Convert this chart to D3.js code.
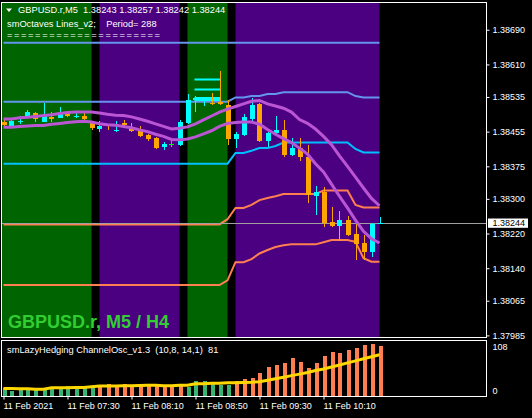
<!DOCTYPE html>
<html>
<head>
<meta charset="utf-8">
<script src="https://cdn.jsdelivr.net/npm/d3@7"></script>
<style>
  body { margin: 0; background: #000; }
  text { font-family: "Liberation Sans", Arial, sans-serif; }
</style>
</head>
<body>
<svg width="532" height="418"></svg>
<script>
(function (d3) {
  'use strict';

  // ---- data (M5 bars, index 0 = 11 Feb 06:50) ----
  var opens = [1.38478,1.38469,1.38478,1.38488,1.38498,1.38478,1.38488,1.38486,1.38498,1.38488,
    1.38490,1.38474,1.38461,1.38470,1.38456,1.38474,1.38465,1.38457,1.38447,1.38441,
    1.38420,1.38427,1.38424,1.38476,1.38528,1.38528,1.38521,1.38524,1.38517,1.38438,
    1.38447,1.38484,1.38519,1.38433,1.38451,1.38459,1.38400,1.38417,1.38397,1.38306,
    1.38316,1.38246,1.38237,1.38251,1.38219,1.38198,1.38178,1.38243];
  var highs = [1.38482,1.38483,1.38491,1.38505,1.38500,1.38521,1.38500,1.38511,1.38501,1.38498,
    1.38498,1.38477,1.38480,1.38473,1.38480,1.38482,1.38474,1.38468,1.38450,1.38443,
    1.38430,1.38433,1.38482,1.38542,1.38537,1.38536,1.38544,1.38594,1.38528,1.38455,
    1.38496,1.38532,1.38521,1.38455,1.38491,1.38482,1.38440,1.38440,1.38424,1.38330,
    1.38328,1.38282,1.38272,1.38260,1.38243,1.38216,1.38245,1.38257];
  var lows = [1.38468,1.38467,1.38473,1.38487,1.38478,1.38477,1.38478,1.38486,1.38488,1.38487,
    1.38482,1.38459,1.38455,1.38459,1.38453,1.38469,1.38455,1.38443,1.38433,1.38415,
    1.38413,1.38420,1.38422,1.38473,1.38501,1.38513,1.38516,1.38516,1.38424,1.38417,
    1.38446,1.38478,1.38432,1.38419,1.38447,1.38397,1.38398,1.38388,1.38290,1.38263,
    1.38234,1.38235,1.38203,1.38214,1.38158,1.38158,1.38166,1.38242];
  var closes = [1.38470,1.38480,1.38480,1.38500,1.38484,1.38494,1.38484,1.38498,1.38490,1.38491,
    1.38483,1.38463,1.38469,1.38467,1.38459,1.38470,1.38457,1.38445,1.38438,1.38418,
    1.38427,1.38427,1.38478,1.38528,1.38532,1.38532,1.38518,1.38518,1.38438,1.38450,
    1.38488,1.38517,1.38434,1.38451,1.38459,1.38400,1.38417,1.38397,1.38309,1.38316,
    1.38245,1.38237,1.38251,1.38216,1.38195,1.38178,1.38243,1.38244];

  var orchidUp = [1.38484,1.38484,1.38487,1.38488,1.38490,1.38492,1.38494,1.38497,1.38499,1.38500,
    1.38500,1.38500,1.38498,1.38495,1.38493,1.38492,1.38489,1.38484,1.38479,1.38473,
    1.38467,1.38461,1.38463,1.38466,1.38473,1.38482,1.38491,1.38500,1.38507,1.38513,
    1.38519,1.38525,1.38527,1.38519,1.38514,1.38509,1.38500,1.38483,1.38474,1.38461,
    1.38444,1.38425,1.38399,1.38375,1.38350,1.38325,1.38301,1.38284];
  var orchidDn = [1.38465,1.38465,1.38467,1.38468,1.38469,1.38469,1.38472,1.38474,1.38476,1.38478,
    1.38479,1.38477,1.38473,1.38471,1.38470,1.38467,1.38464,1.38459,1.38455,1.38449,
    1.38444,1.38437,1.38436,1.38438,1.38443,1.38450,1.38457,1.38467,1.38474,1.38476,
    1.38477,1.38477,1.38472,1.38460,1.38449,1.38439,1.38430,1.38417,1.38403,1.38381,
    1.38362,1.38334,1.38306,1.38279,1.38251,1.38225,1.38208,1.38198];

  // smOctaves levels
  var octA = [1.38660,1.38660,1.38660,1.38660,1.38660,1.38660,1.38660,1.38660,1.38660,1.38660,
    1.38660,1.38660,1.38660,1.38660,1.38660,1.38660,1.38660,1.38660,1.38660,1.38660,
    1.38660,1.38660,1.38660,1.38660,1.38660,1.38660,1.38660,1.38660,1.38660,1.38660,
    1.38660,1.38660,1.38660,1.38660,1.38660,1.38660,1.38660,1.38660,1.38660,1.38660,
    1.38660,1.38660,1.38660,1.38660,1.38660,1.38660,1.38660,1.38660];
  var octB = [1.38524,1.38524,1.38524,1.38524,1.38524,1.38524,1.38524,1.38524,1.38524,1.38524,
    1.38524,1.38524,1.38524,1.38524,1.38524,1.38524,1.38524,1.38524,1.38524,1.38524,
    1.38524,1.38524,1.38524,1.38524,1.38524,1.38524,1.38524,1.38524,1.38524,1.38534,
    1.38534,1.38537,1.38537,1.38542,1.38542,1.38546,1.38546,1.38546,1.38546,1.38546,
    1.38546,1.38546,1.38546,1.38546,1.38537,1.38534,1.38534,1.38534];
  var octC = [1.38381,1.38381,1.38381,1.38381,1.38381,1.38381,1.38381,1.38381,1.38381,1.38381,
    1.38381,1.38381,1.38381,1.38381,1.38381,1.38381,1.38381,1.38381,1.38381,1.38381,
    1.38381,1.38381,1.38381,1.38381,1.38381,1.38381,1.38381,1.38381,1.38381,1.38406,
    1.38406,1.38411,1.38417,1.38417,1.38422,1.38430,1.38430,1.38430,1.38430,1.38430,
    1.38430,1.38430,1.38430,1.38430,1.38415,1.38407,1.38407,1.38407];
  var octD = [1.38241,1.38241,1.38241,1.38241,1.38241,1.38241,1.38241,1.38241,1.38241,1.38241,
    1.38241,1.38241,1.38241,1.38241,1.38241,1.38241,1.38241,1.38241,1.38241,1.38241,
    1.38241,1.38241,1.38241,1.38241,1.38241,1.38241,1.38241,1.38241,1.38253,1.38279,
    1.38279,1.38286,1.38297,1.38302,1.38306,1.38311,1.38311,1.38311,1.38311,1.38311,
    1.38319,1.38319,1.38319,1.38319,1.38286,1.38280,1.38280,1.38280];
  var octE = [1.38101,1.38101,1.38101,1.38101,1.38101,1.38101,1.38101,1.38101,1.38101,1.38101,
    1.38101,1.38101,1.38101,1.38101,1.38101,1.38101,1.38101,1.38101,1.38101,1.38101,
    1.38101,1.38101,1.38101,1.38101,1.38101,1.38101,1.38101,1.38101,1.38112,1.38154,
    1.38154,1.38161,1.38174,1.38182,1.38189,1.38193,1.38195,1.38195,1.38195,1.38195,
    1.38200,1.38205,1.38205,1.38205,1.38201,1.38163,1.38155,1.38155];

  // short cyan levels near the top
  var markPrices = [1.38575, 1.38552, 1.38530];
  var markWidths = [2, 2, 4];
  var markFrom = 24, markTo = 27;

  // H4 background blocks (bar index from/to)
  var bandStart = [-1, 12, 23, 29];
  var bandEnd = [11, 22, 28, 47];
  var bandTrend = ['up', 'down', 'up', 'down'];

  // ChannelOsc sub window
  var histVals = [16,10,16,11,13,12,14,16,20,20,16,18,
    21,24,22,24,20,20,22,23,20,21,23,
    18,29,29,27,21,21,
    29,34,36,46,57,61,65,75,67,55,65,79,87,84,90,95,100,102,98];
  var histDir = ['u','u','u','u','u','u','u','u','u','u','u','u',
    'd','d','d','d','d','d','d','d','d','d','d',
    'u','u','u','u','u','u',
    'd','d','d','d','d','d','d','d','d','d','d','d','d','d','d','d','d','d','d'];
  var signal = [14.5,14.5,14,14,13.5,13.5,16,16,16,16.5,16.5,18,19.5,19.5,19.5,20,20,20.5,21,21,
    20,20,21,21,24,24,25,25,26,26,26.5,27,28,31,34,37,40,43,46,50,
    53,57,61,65,69,73,77,81];

  var priceTicks = [1.38690, 1.38610, 1.38535, 1.38455, 1.38375, 1.38300, 1.38220, 1.38140, 1.38065, 1.37985];
  var timeTickBars = [0, 8, 16, 24, 32, 40];
  var timeTickLabels = ['11 Feb 2021', '11 Feb 07:30', '11 Feb 08:10', '11 Feb 08:50', '11 Feb 09:30', '11 Feb 10:10'];

  // ---- layout ----
  var svg = d3.select('svg');
  var frameL = 1.5, frameR = 486.5, mainTop = 2.5, mainBot = 337.5, subTop = 340.5, subBot = 396.5;

  var x = d3.scaleLinear().domain([0, 47]).range([3.5, 379.5]);
  var y = d3.scaleLinear().domain([1.37979, 1.38754]).range([338, 2]);
  var ySub = d3.scaleLinear().domain([0, 108]).range([396, 341]);
  var fmt = d3.format('.5f');

  svg.append('rect').attr('width', 532).attr('height', 418).attr('fill', '#000');

  var defs = svg.append('defs');
  defs.append('clipPath').attr('id', 'clipMain').append('rect')
    .attr('x', frameL).attr('y', mainTop).attr('width', frameR - frameL).attr('height', mainBot - mainTop);
  defs.append('clipPath').attr('id', 'clipSub').append('rect')
    .attr('x', frameL).attr('y', subTop).attr('width', frameR - frameL).attr('height', subBot - subTop);

  var g = svg.append('g').attr('clip-path', 'url(#clipMain)');

  // background blocks
  g.selectAll('rect.band').data(bandStart).enter().append('rect')
    .attr('class', 'band')
    .attr('x', function (d) { return x(d); })
    .attr('width', function (d, i) { return x(bandEnd[i]) - x(d); })
    .attr('y', mainTop).attr('height', mainBot - mainTop)
    .attr('fill', function (d, i) { return bandTrend[i] == 'up' ? '#006400' : '#4b0082'; });

  var line = d3.line().x(function (d, i) { return x(i); }).y(function (d) { return y(d); });

  [[octA, '#6495ed'], [octB, '#6495ed'], [octC, '#00bfff'], [octD, '#ff7f50'], [octE, '#ff7f50']]
    .forEach(function (o) {
      g.append('path').attr('d', line(o[0])).attr('fill', 'none')
        .attr('stroke', o[1]).attr('stroke-width', 2);
    });

  // current price line
  var last = closes[closes.length - 1];
  g.append('line').attr('x1', frameL).attr('x2', frameR)
    .attr('y1', Math.round(y(last)) + 0.5).attr('y2', Math.round(y(last)) + 0.5)
    .attr('stroke', '#a0a0a0').attr('stroke-width', 1);

  // short cyan levels
  g.selectAll('line.mark').data(markPrices).enter().append('line')
    .attr('x1', x(markFrom) - 1).attr('x2', x(markTo) + 1)
    .attr('y1', function (d) { return y(d); }).attr('y2', function (d) { return y(d); })
    .attr('stroke', '#00ffff').attr('stroke-width', function (d, i) { return markWidths[i]; });

  // candles
  function candleColor(i) {
    if (closes[i] > opens[i]) return '#00ffff';
    if (closes[i] < opens[i]) return '#ffa500';
    return '#00ff00';
  }
  var candles = g.selectAll('g.candle').data(opens).enter().append('g').attr('class', 'candle');
  candles.append('line')
    .attr('x1', function (d, i) { return Math.round(x(i)) + 0.5; })
    .attr('x2', function (d, i) { return Math.round(x(i)) + 0.5; })
    .attr('y1', function (d, i) { return y(highs[i]); })
    .attr('y2', function (d, i) { return y(lows[i]); })
    .attr('stroke', function (d, i) { return candleColor(i); })
    .attr('shape-rendering', 'crispEdges');
  candles.append('rect')
    .attr('x', function (d, i) { return Math.round(x(i)) - 2; })
    .attr('width', 5)
    .attr('y', function (d, i) { return Math.min(y(opens[i]), y(closes[i])); })
    .attr('height', function (d, i) { return Math.max(1, Math.abs(y(opens[i]) - y(closes[i]))); })
    .attr('fill', function (d, i) { return candleColor(i); })
    .attr('shape-rendering', 'crispEdges');

  // orchid lines
  [orchidUp, orchidDn].forEach(function (s) {
    g.append('path').attr('d', line(s)).attr('fill', 'none')
      .attr('stroke', '#ba55d3').attr('stroke-width', 3);
  });

  // texts in main window
  svg.append('path').attr('d', 'M6,8.5L12,8.5L9,12Z').attr('fill', '#fff');
  svg.append('text').attr('x', 18).attr('y', 10).attr('dy', '0.35em')
    .attr('fill', '#fff').attr('font-size', 9.3).style('white-space', 'pre')
    .text('GBPUSD.r,M5  1.38243 1.38257 1.38242 1.38244');
  svg.append('text').attr('x', 7).attr('y', 24).attr('dy', '0.35em')
    .attr('fill', '#fff').attr('font-size', 9.3).style('white-space', 'pre')
    .text('smOctaves Lines_v2;    Period= 288');
  svg.append('text').attr('x', 7).attr('y', 35).attr('dy', '0.35em')
    .attr('fill', '#fff').attr('font-size', 9.3)
    .attr('textLength', 153).attr('lengthAdjust', 'spacing')
    .text('======================');
  svg.append('text').attr('x', 8).attr('y', 328)
    .attr('fill', '#32cd32').attr('font-size', 18).attr('font-weight', 'bold')
    .text('GBPUSD.r, M5 / H4');

  // frames
  svg.append('rect').attr('x', frameL).attr('y', mainTop)
    .attr('width', frameR - frameL).attr('height', mainBot - mainTop)
    .attr('fill', 'none').attr('stroke', '#fff');
  svg.append('rect').attr('x', frameL).attr('y', subTop)
    .attr('width', frameR - frameL).attr('height', subBot - subTop)
    .attr('fill', 'none').attr('stroke', '#fff');

  // price axis
  var yAxis = svg.append('g').attr('transform', 'translate(' + frameR + ',0)')
    .call(d3.axisRight(y).tickValues(priceTicks).tickFormat(fmt).tickSize(3).tickPadding(3));
  yAxis.select('.domain').remove();
  yAxis.selectAll('line').attr('stroke', '#fff');
  yAxis.selectAll('text').attr('fill', '#fff').attr('font-size', 9)
    .attr('font-family', '"Liberation Sans", Arial, sans-serif');

  // current price tag
  svg.append('rect').attr('x', 488).attr('y', y(last) - 4.6).attr('width', 40).attr('height', 9.3)
    .attr('fill', '#fff');
  svg.append('text').attr('x', 492.5).attr('y', y(last)).attr('dy', '0.35em')
    .attr('fill', '#000').attr('font-size', 9).text(fmt(last));

  // sub window
  var gs = svg.append('g').attr('clip-path', 'url(#clipSub)');
  gs.selectAll('rect.hist').data(histVals).enter().append('rect')
    .attr('class', 'hist')
    .attr('x', function (d, i) { return Math.round(x(i)) - 1.5; })
    .attr('width', 4)
    .attr('y', function (d) { return ySub(d); })
    .attr('height', function (d) { return ySub(0) - ySub(d); })
    .attr('fill', function (d, i) { return histDir[i] == 'u' ? '#3cb371' : '#ff7f50'; })
    .attr('shape-rendering', 'crispEdges');
  gs.append('path')
    .attr('d', d3.line().x(function (d, i) { return x(i); }).y(function (d) { return ySub(d); })(signal))
    .attr('fill', 'none').attr('stroke', '#ffd700').attr('stroke-width', 3);

  svg.append('text').attr('x', 7).attr('y', 350).attr('dy', '0.35em')
    .attr('fill', '#fff').attr('font-size', 9.3).style('white-space', 'pre')
    .text('smLazyHedging ChannelOsc_v1.3  (10,8, 14,1)  ' + signal[signal.length - 1]);

  var subAxis = svg.append('g').attr('transform', 'translate(' + frameR + ',0)')
    .call(d3.axisRight(ySub).tickValues([108, 0]).tickSize(0).tickPadding(6));
  subAxis.select('.domain').remove();
  subAxis.selectAll('text').attr('fill', '#fff').attr('font-size', 9)
    .attr('font-family', '"Liberation Sans", Arial, sans-serif')
    .attr('dy', function (d) { return d > 0 ? '0.95em' : '-0.27em'; });

  // time axis
  var xAxis = svg.append('g').attr('transform', 'translate(0,' + subBot + ')')
    .call(d3.axisBottom(x).tickValues(timeTickBars)
      .tickFormat(function (d, i) { return timeTickLabels[i]; }).tickSize(3).tickPadding(3));
  xAxis.select('.domain').remove();
  xAxis.selectAll('line').attr('stroke', '#fff');
  xAxis.selectAll('text').attr('fill', '#fff').attr('font-size', 9)
    .attr('font-family', '"Liberation Sans", Arial, sans-serif')
    .attr('text-anchor', 'start').attr('x', -0.5);

}(d3));
</script>
</body>
</html>
